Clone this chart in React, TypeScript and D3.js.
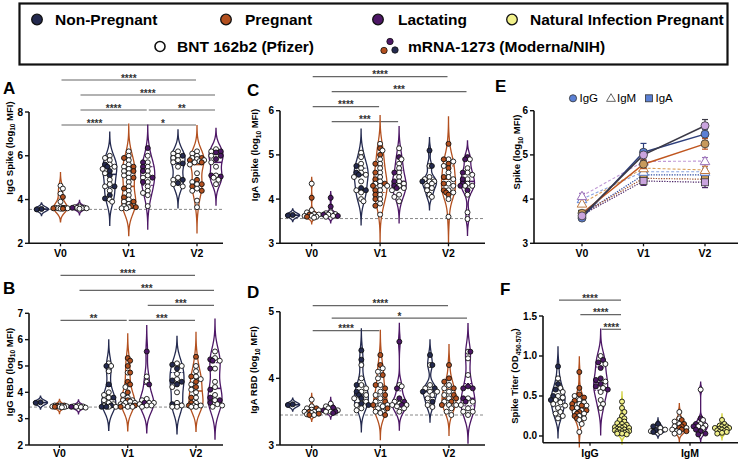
import React from "react";
import * as d3 from "d3";

const W = 745;
const H = 459;
const FONT = "'Liberation Sans', Arial, sans-serif";

// groups and timepoints
const groupNames = ["Non-Pregnant", "Pregnant", "Lactating"];
const timepoints = ["V0", "V1", "V2"];
const groupColors = ["#242a4f", "#b3501f", "#4d1766"];
const naturalColor = "#f1f08a";
const naturalStroke = "#cfcf3a";

// order of every violin list: V0 np, V0 p, V0 l, V1 np, V1 p, V1 l, V2 np, V2 p, V2 l
const spikeIgGPfizer: number[][] = [
  [],
  [4.63, 4.5, 4.27, 3.9, 3.62, 3.6, 3.58, 3.65, 3.6, 3.62],
  [3.6, 3.62, 3.65, 3.68, 3.6, 3.63, 3.58],
  [6.0, 5.9, 5.8, 5.6, 5.5, 5.4, 5.2, 4.9, 4.7, 4.6, 4.4, 4.0, 3.9],
  [6.2, 6.0, 5.8, 5.6, 5.5, 5.4, 5.3, 5.2, 5.1, 5.0, 4.8, 4.6, 4.4, 4.2, 4.0, 3.9, 3.8, 3.7, 3.65, 3.6, 3.6, 3.7],
  [6.0, 5.7, 5.5, 5.3, 5.1, 5.0, 4.8, 4.6, 4.4, 4.3, 4.2, 3.7],
  [6.2, 6.1, 6.0, 5.9, 5.8, 5.7, 5.5, 5.0, 4.9, 4.7, 4.6],
  [6.2, 6.1, 6.0, 5.9, 5.85, 5.8, 5.75, 5.7, 5.6, 5.2, 4.8, 4.7, 4.5, 4.4, 3.95, 3.65],
  [6.3, 6.2, 6.0, 5.7, 5.5, 5.1, 5.0, 4.9, 4.7],
];
const spikeIgGModerna: number[][] = [
  [3.55, 3.57],
  [4.12, 3.62, 3.6, 3.58],
  [3.62],
  [5.6, 5.5, 5.3, 5.1, 4.6, 4.2, 4.05],
  [5.9, 5.5, 5.3, 5.0, 4.5, 4.1, 3.9, 3.7, 3.65],
  [6.35, 5.7, 5.5, 5.3, 5.0, 4.8],
  [6.0, 5.65, 4.9, 4.75],
  [5.9, 5.8, 5.7, 4.9, 4.7, 4.6, 4.4],
  [6.2, 6.15, 6.0, 5.85, 5.1, 5.05],
];
const spikeIgGSig: [number, number, number, string][] = [
  [1, 4, 0, "****"], [4, 7, 0, "*"], [2, 5, 1, "****"], [5, 8, 1, "**"], [2, 8, 2, "****"], [1, 7, 3, "****"],
];

const rbdIgGPfizer: number[][] = [
  [],
  [3.45, 3.48, 3.5, 3.44, 3.47, 3.5, 3.46, 3.43],
  [3.42, 3.45, 3.47, 3.44, 3.46, 3.48],
  [5.1, 5.0, 4.8, 4.0, 3.9, 3.8, 3.7, 3.6, 3.55, 3.5, 3.45, 3.45],
  [4.75, 4.2, 3.9, 3.8, 3.7, 3.65, 3.6, 3.55, 3.5, 3.5, 3.45, 3.45, 3.6, 3.7],
  [4.6, 4.4, 3.75, 3.7, 3.6, 3.55, 3.5, 3.45, 3.5, 3.6],
  [5.1, 5.0, 4.7, 4.5, 4.2, 4.0, 3.6, 3.5, 3.45, 3.45],
  [5.0, 4.8, 4.6, 4.5, 4.3, 4.1, 4.0, 3.8, 3.6, 3.5, 3.45, 3.5, 3.45],
  [5.55, 5.3, 5.2, 4.9, 4.4, 4.2, 3.9, 3.7, 3.55, 3.45, 3.5],
];
const rbdIgGModerna: number[][] = [
  [3.6, 3.62],
  [3.48, 3.5, 3.45],
  [3.45],
  [5.0, 4.3, 3.8, 3.5, 3.45, 3.45],
  [5.3, 5.2, 5.0, 4.75, 4.4, 4.3, 4.0, 3.7, 3.5, 3.45],
  [5.55, 4.3, 3.6],
  [5.05, 4.9, 4.45, 4.4, 4.3, 3.55],
  [5.35, 4.6, 4.4, 4.2, 3.8, 3.6, 3.5],
  [5.25, 5.2, 4.9, 4.1, 3.8, 3.7, 3.6],
];
const rbdIgGSig: [number, number, number, string][] = [
  [1, 4, 0, "**"], [4, 7, 0, "***"], [5, 8, 1, "***"], [2, 8, 2, "***"], [1, 7, 3, "****"],
];

const spikeIgAPfizer: number[][] = [
  [],
  [4.35, 3.75, 3.7, 3.65, 3.62, 3.6, 3.58, 3.62, 3.66],
  [3.7, 3.68, 3.65, 3.62, 3.6, 3.66],
  [5.05, 4.95, 4.8, 4.7, 4.6, 4.55, 4.5, 4.4, 4.2, 4.15, 4.0, 3.95],
  [5.25, 5.1, 4.9, 4.8, 4.7, 4.6, 4.5, 4.4, 4.35, 4.3, 4.3, 4.2, 4.1, 4.0, 3.9, 3.65],
  [5.15, 4.9, 4.8, 4.7, 4.6, 4.5, 4.4, 4.35, 4.3, 4.25, 4.2, 4.1, 4.05, 3.95],
  [4.75, 4.5, 4.45, 4.4, 4.4, 4.35, 4.3, 4.25, 4.2, 4.1, 4.05],
  [4.9, 4.85, 4.75, 4.6, 4.5, 4.45, 4.35, 4.3, 4.2, 4.15, 4.0, 3.6],
  [4.9, 4.7, 4.6, 4.55, 4.45, 4.35, 4.3, 4.3, 4.1, 3.7, 3.55],
];
const spikeIgAModerna: number[][] = [
  [3.63, 3.64],
  [4.03, 3.6, 3.65],
  [4.03, 3.83, 3.65, 3.62],
  [4.75, 4.6, 4.55, 4.25, 4.2],
  [5.15, 5.0, 4.8, 4.6, 4.45, 4.35, 4.3, 4.2, 4.1, 4.0, 3.85],
  [4.95, 4.6, 4.4, 4.3, 4.25],
  [5.1, 4.75, 4.4],
  [5.25, 4.9, 4.8, 4.7, 4.5, 4.35, 4.2, 4.15, 4.1],
  [4.95, 4.9, 4.6, 4.45, 4.35, 4.3, 4.2],
];
const spikeIgASig: [number, number, number, string][] = [
  [2, 5, 0, "***"], [1, 4, 1, "****"], [2, 8, 2, "***"], [1, 7, 3, "****"],
];

const rbdIgAPfizer: number[][] = [
  [],
  [3.68, 3.58, 3.55, 3.52, 3.5, 3.48, 3.46, 3.45, 3.5, 3.53],
  [3.62, 3.58, 3.55, 3.52, 3.5, 3.5],
  [4.2, 4.0, 3.9, 3.85, 3.8, 3.75, 3.7, 3.65, 3.6, 3.55, 3.52],
  [4.15, 4.1, 4.0, 3.9, 3.8, 3.75, 3.7, 3.65, 3.6, 3.58, 3.55, 3.5, 3.5, 3.48, 3.6],
  [3.9, 3.88, 3.65, 3.6, 3.6, 3.55, 3.5, 3.62, 3.58],
  [4.2, 3.9, 3.85, 3.8, 3.8, 3.75, 3.7, 3.6, 3.57],
  [3.9, 3.85, 3.8, 3.75, 3.7, 3.65, 3.6, 3.6, 3.55, 3.5, 3.45],
  [4.4, 4.3, 4.05, 3.7, 3.65, 3.6, 3.55, 3.5, 3.45, 3.5],
];
const rbdIgAModerna: number[][] = [
  [3.6, 3.61],
  [3.55, 3.5, 3.47, 3.45],
  [3.56, 3.52, 3.5, 3.48],
  [4.42, 4.28, 3.9, 3.8, 3.75, 3.7, 3.62, 3.6],
  [4.35, 4.2, 4.05, 3.9, 3.85, 3.75, 3.65, 3.6, 3.55, 3.45],
  [4.55, 3.85, 3.7, 3.65, 3.6],
  [4.35, 4.2, 3.85, 3.8, 3.65],
  [4.2, 4.0, 3.95, 3.85, 3.75, 3.7, 3.65, 3.6],
  [4.4, 3.88, 3.85, 3.85, 3.7, 3.65],
];
const rbdIgASig: [number, number, number, string][] = [
  [1, 4, 0, "****"], [2, 8, 1, "*"], [1, 7, 2, "****"],
];

// panel F: IgG np, p, l, IgM np, p, l
const isotypes = ["IgG", "IgM"];
const titerPfizer: number[][] = [
  [0.72, 0.6, 0.55, 0.5, 0.48, 0.45, 0.42, 0.4, 0.38, 0.35, 0.3, 0.28, 0.25, 0.22],
  [0.5, 0.45, 0.42, 0.38, 0.35, 0.32, 0.3, 0.28, 0.25, 0.22, 0.2, 0.15, 0.05, 0.4],
  [1.0, 0.9, 0.68, 0.6, 0.55, 0.45, 0.4, 0.35],
  [0.1, 0.08, 0.06, 0.05],
  [0.3, 0.22, 0.18, 0.15, 0.12, 0.1, 0.08, 0.06, 0.05, 0.03],
  [0.58, 0.2, 0.15, 0.13, 0.12, 0.1],
];
const titerModerna: number[][] = [
  [0.87, 0.65, 0.58, 0.5, 0.45],
  [0.8, 0.6, 0.52, 0.48, 0.44, 0.4, 0.38, 0.35, 0.32, 0.3, 0.28, 0.25, 0.22],
  [0.95, 0.92, 0.85, 0.72, 0.7, 0.65, 0.62, 0.58],
  [0.15, 0.12, 0.07, 0.05],
  [0.2, 0.15, 0.12, 0.1, 0.08, 0.06],
  [0.22, 0.15, 0.12, 0.08, 0.06, 0.03, 0.02],
];
const titerNatural: number[][] = [
  [0.43, 0.35, 0.3, 0.25, 0.22, 0.2, 0.18, 0.16, 0.15, 0.14, 0.12, 0.11, 0.1, 0.09, 0.08, 0.07, 0.06, 0.05, 0.05, 0.04, 0.04, 0.03, 0.03, 0.02, 0.08, 0.1, 0.06, 0.12],
  [0.2, 0.15, 0.13, 0.12, 0.1, 0.1, 0.09, 0.08, 0.08, 0.07, 0.06, 0.05, 0.05, 0.04, 0.03, 0.12, 0.1],
];
const titerSig: [number, number, number, string][] = [
  [2, 3, 0, "****"], [1, 3, 1, "****"], [0, 3, 2, "****"],
];

// panel E: means per group over V0, V1, V2
const meanIgG = [[3.57, 5.06, 5.47], [3.68, 4.79, 5.25], [3.62, 5.0, 5.66]];
const semIgG = [[0.03, 0.2, 0.1], [0.04, 0.1, 0.12], [0.04, 0.12, 0.14]];
const meanIgM = [[4.0, 4.62, 4.62], [3.9, 4.7, 4.66], [4.07, 4.85, 4.86]];
const semIgM = [[0.06, 0.08, 0.08], [0.06, 0.08, 0.08], [0.06, 0.08, 0.08]];
const meanIgA = [[3.65, 4.55, 4.55], [3.67, 4.47, 4.45], [3.64, 4.41, 4.38]];
const semIgA = [[0.03, 0.1, 0.1], [0.03, 0.1, 0.1], [0.03, 0.1, 0.12]];

const eLineIgG = ["#2e3f7c", "#c0561f", "#3b3946"];
const eLineIgM = ["#8aa3e0", "#d9a05a", "#c09ad6"];
const eLineIgA = ["#2e4aa0", "#a0522d", "#4b2466"];
const eFill = ["#5b80d4", "#c79a5c", "#caa4de"];
const eTri = ["#5b80d4", "#c07a40", "#9a70b8"];

type Pt = { x: number; y: number; fill: string };

function gaussDensity(py: number[], bw: number) {
  return (yy: number) => {
    let s = 0;
    for (const p of py) {
      const u = (yy - p) / bw;
      s += Math.exp(-0.5 * u * u);
    }
    return s;
  };
}

function Violin(props: {
  cx: number;
  y: d3.ScaleLinear<number, number>;
  pfizer: number[];
  moderna: number[];
  natural?: number[];
  color: string;
  fillColor: string;
}) {
  const { cx, y, pfizer, moderna, natural = [], color, fillColor } = props;
  const r = 2.5;
  const maxHalf = 7;
  const items = [
    ...pfizer.map((v) => ({ v, fill: "#fff" })),
    ...moderna.map((v) => ({ v, fill: color })),
    ...natural.map((v) => ({ v, fill: naturalColor })),
  ];
  const py = items.map((d) => y(d.v));
  const sorted = [...py].sort((a, b) => a - b);
  const sd = d3.deviation(py) || 0;
  const iqr = (d3.quantileSorted(sorted, 0.75) || 0) - (d3.quantileSorted(sorted, 0.25) || 0);
  const spread = iqr > 0 ? Math.min(sd, iqr / 1.34) : sd;
  const bw = Math.max(1.05 * spread * Math.pow(py.length, -0.2), 2.2);
  const dens = gaussDensity(py, bw);
  const lo = (d3.min(py) as number) - 2.8 * bw;
  const hi = (d3.max(py) as number) + 2.8 * bw;
  const grid = d3.range(0, 81).map((i) => lo + ((hi - lo) * i) / 80);
  const maxD = d3.max(grid, dens) as number;
  const half = (yy: number) => (maxHalf * dens(yy)) / maxD;
  const area = d3
    .area<number>()
    .y((d) => d)
    .x0((d) => cx - half(d))
    .x1((d) => cx + half(d))
    .curve(d3.curveBasis);

  // simple swarm around the violin centre
  const order = items.map((d, i) => ({ ...d, py: py[i] })).sort((a, b) => a.py - b.py);
  const placed: Pt[] = [];
  const step = r * 0.95;
  for (const it of order) {
    const lim = Math.max(half(it.py) + 1.2, 4.5);
    let best = 0;
    let bestScore = -Infinity;
    let found = false;
    for (let k = 0; k < 10 && !found; k++) {
      const cands = k === 0 ? [0] : k % 2 ? [k * step, -k * step] : [-k * step, k * step];
      for (const dx of cands) {
        if (Math.abs(dx) > lim) continue;
        let minDist = Infinity;
        for (const p of placed) {
          const dd = Math.hypot(p.x - (cx + dx), p.y - it.py);
          if (dd < minDist) minDist = dd;
        }
        if (minDist >= 2 * r * 0.85) {
          best = dx;
          found = true;
          break;
        }
        if (minDist > bestScore) {
          bestScore = minDist;
          best = dx;
        }
      }
    }
    placed.push({ x: cx + best, y: it.py, fill: it.fill });
  }

  const q = (p: number) => d3.quantileSorted(sorted, p) as number;
  const qLine = (yy: number, w: number, dash?: string) => (
    <line x1={cx - half(yy)} x2={cx + half(yy)} y1={yy} y2={yy} stroke={color} strokeWidth={w} strokeDasharray={dash} />
  );

  return (
    <g>
      <path d={area(grid) || ""} fill={fillColor} stroke={color} strokeWidth={1.3} />
      {qLine(q(0.25), 1, "2,1")}
      {qLine(q(0.75), 1, "2,1")}
      {qLine(q(0.5), 1.6)}
      {placed.map((p, i) => (
        <circle key={i} cx={p.x} cy={p.y} r={r} fill={p.fill} stroke="#111" strokeWidth={0.9} />
      ))}
    </g>
  );
}

function YTitle(props: { x: number; y: number; pre: string; sub: string; post: string }) {
  const { x, y, pre, sub, post } = props;
  return (
    <text transform={`translate(${x},${y}) rotate(-90)`} textAnchor="middle" fontSize={9.5} fontWeight="bold">
      {pre}
      <tspan fontSize={6.5} dy={2.5}>{sub}</tspan>
      <tspan dy={-2.5}>{post}</tspan>
    </text>
  );
}

function Axes(props: {
  left: number;
  right: number;
  top: number;
  bottom: number;
  y: d3.ScaleLinear<number, number>;
  ticks: number[];
  fmt: (v: number) => string;
  labels: { x: number; text: string }[];
  labelY: number;
}) {
  const { left, right, top, bottom, y, ticks, fmt, labels, labelY } = props;
  return (
    <g>
      <line x1={left} x2={left} y1={top} y2={bottom} stroke="#111" strokeWidth={1.6} />
      <line x1={left} x2={right} y1={bottom} y2={bottom} stroke="#111" strokeWidth={1.6} />
      {ticks.map((t) => (
        <g key={t}>
          <line x1={left - 4} x2={left} y1={y(t)} y2={y(t)} stroke="#111" strokeWidth={1.4} />
          <text x={left - 6} y={y(t)} dy="0.35em" textAnchor="end" fontSize={10} fontWeight="bold">
            {fmt(t)}
          </text>
        </g>
      ))}
      {labels.map((l) => (
        <g key={l.text}>
          <line x1={l.x} x2={l.x} y1={bottom} y2={bottom + 3} stroke="#111" strokeWidth={1.3} />
          <text x={l.x} y={labelY} textAnchor="middle" fontSize={10.5} fontWeight="bold">
            {l.text}
          </text>
        </g>
      ))}
    </g>
  );
}

function SigBars(props: { xs: number[]; sig: [number, number, number, string][]; base: number; step: number }) {
  const { xs, sig, base, step } = props;
  return (
    <g>
      {sig.map(([a, b, lvl, s], i) => {
        const yy = base - lvl * step;
        const x1 = xs[a] + 1;
        const x2 = xs[b] - 1;
        return (
          <g key={i}>
            <line x1={x1} x2={x2} y1={yy} y2={yy} stroke="#666" strokeWidth={1.2} />
            <text x={(x1 + x2) / 2} y={yy + 1.5} textAnchor="middle" fontSize={10} fontWeight="bold" fill="#333">
              {s}
            </text>
          </g>
        );
      })}
    </g>
  );
}

function TimePanel(props: {
  pfizer: number[][];
  moderna: number[][];
  sig: [number, number, number, string][];
  domain: [number, number];
  ticks: number[];
  lod: number;
  left: number;
  right: number;
  top: number;
  bottom: number;
  centers: [number, number];
  sigBase: number;
  sigStep: number;
  title: string;
  titleX: number;
  titleY: number;
  letter: string;
  letterX: number;
  letterY: number;
  labelY: number;
}) {
  const p = props;
  const y = d3.scaleLinear().domain(p.domain).range([p.bottom, p.top]);
  const xt = d3.scalePoint<string>().domain(timepoints).range(p.centers);
  const xg = d3.scalePoint<string>().domain(groupNames).range([-19, 19]);
  const xs = timepoints.flatMap((t) => groupNames.map((g) => (xt(t) as number) + (xg(g) as number)));
  return (
    <g>
      <text x={p.letterX} y={p.letterY} fontSize={17} fontWeight="bold">{p.letter}</text>
      <SigBars xs={xs} sig={p.sig} base={p.sigBase} step={p.sigStep} />
      <line x1={p.left} x2={p.right} y1={y(p.lod)} y2={y(p.lod)} stroke="#888" strokeWidth={1} strokeDasharray="3,2" />
      {xs.map((cx, i) => (
        <Violin key={i} cx={cx} y={y} pfizer={p.pfizer[i]} moderna={p.moderna[i]} color={groupColors[i % 3]} fillColor="#fff" />
      ))}
      <Axes
        left={p.left}
        right={p.right}
        top={p.top}
        bottom={p.bottom}
        y={y}
        ticks={p.ticks}
        fmt={(v) => String(v)}
        labels={timepoints.map((t) => ({ x: xt(t) as number, text: t }))}
        labelY={p.labelY}
      />
      <YTitle x={p.titleX} y={p.titleY} pre={p.title + " (log"} sub="10" post=" MFI)" />
    </g>
  );
}

function TiterPanel() {
  const left = 543, right = 738, top = 316, bottom = 442.7;
  const y = d3.scaleLinear().domain([-0.084, 1.5]).range([bottom, top]);
  const xi = d3.scalePoint<string>().domain(isotypes).range([590, 690]);
  const xg = d3.scalePoint<string>().domain([...groupNames, "Natural"]).range([-32, 32]);
  const cells = isotypes.flatMap((iso, ii) =>
    [...groupNames, "Natural"].map((g, gi) => ({
      cx: (xi(iso) as number) + (xg(g) as number),
      pf: gi < 3 ? titerPfizer[ii * 3 + gi] : [],
      mo: gi < 3 ? titerModerna[ii * 3 + gi] : [],
      nat: gi === 3 ? titerNatural[ii] : [],
      color: gi < 3 ? groupColors[gi] : naturalStroke,
    }))
  );
  return (
    <g>
      <text x={500} y={295} fontSize={17} fontWeight="bold">F</text>
      <SigBars xs={cells.map((c) => c.cx)} sig={titerSig} base={329.3} step={14.6} />
      {cells.map((c, i) => (
        <Violin key={i} cx={c.cx} y={y} pfizer={c.pf} moderna={c.mo} natural={c.nat} color={c.color} fillColor={c.nat.length ? "#fbfbd8" : "#fff"} />
      ))}
      <Axes
        left={left}
        right={right}
        top={top}
        bottom={bottom}
        y={y}
        ticks={[0, 0.5, 1, 1.5]}
        fmt={d3.format(".1f")}
        labels={isotypes.map((t) => ({ x: xi(t) as number, text: t }))}
        labelY={457}
      />
      <YTitle x={518} y={376} pre="Spike Titer (OD" sub="450-570" post=")" />
    </g>
  );
}

function LinePanel() {
  const left = 534, right = 738, top = 110.7, bottom = 243.3;
  const y = d3.scaleLinear().domain([3, 6]).range([bottom, top]);
  const x = d3.scalePoint<string>().domain(timepoints).range([582, 705]);
  const line = d3.line<number>().x((_, i) => x(timepoints[i]) as number).y((d) => y(d));
  const err = (means: number[][], sems: number[][], colors: string[]) =>
    means.flatMap((m, g) =>
      m.map((v, i) => {
        const cx = x(timepoints[i]) as number;
        return (
          <g key={`${g}-${i}`} stroke={colors[g]} strokeWidth={1.2}>
            <line x1={cx} x2={cx} y1={y(v - sems[g][i])} y2={y(v + sems[g][i])} />
            <line x1={cx - 3} x2={cx + 3} y1={y(v + sems[g][i])} y2={y(v + sems[g][i])} />
            <line x1={cx - 3} x2={cx + 3} y1={y(v - sems[g][i])} y2={y(v - sems[g][i])} />
          </g>
        );
      })
    );
  return (
    <g>
      <text x={495} y={92} fontSize={17} fontWeight="bold">E</text>
      {/* legend */}
      <circle cx={573} cy={98.3} r={3.6} fill={eFill[0]} stroke="#333" strokeWidth={0.8} />
      <text x={579.5} y={102.3} fontSize={11.5}>IgG</text>
      <path d={d3.symbol(d3.symbolTriangle, 34)() || ""} transform="translate(611,98.8)" fill="#fff" stroke="#555" strokeWidth={0.9} />
      <text x={617} y={102.3} fontSize={11.5}>IgM</text>
      <rect x={645.5} y={94.8} width={7} height={7} fill={eFill[0]} stroke="#333" strokeWidth={0.8} />
      <text x={655.5} y={102.3} fontSize={11.5}>IgA</text>

      {meanIgA.map((m, g) => (
        <path key={`a${g}`} d={line(m) || ""} fill="none" stroke={eLineIgA[g]} strokeWidth={1.2} strokeDasharray="1.3,1.3" />
      ))}
      {meanIgM.map((m, g) => (
        <path key={`m${g}`} d={line(m) || ""} fill="none" stroke={eLineIgM[g]} strokeWidth={1.1} strokeDasharray="3,2" />
      ))}
      {err(meanIgA, semIgA, eLineIgA)}
      {err(meanIgM, semIgM, eTri)}
      {meanIgA.map((m, g) =>
        m.map((v, i) => (
          <rect key={`as${g}-${i}`} x={(x(timepoints[i]) as number) - 3.5} y={y(v) - 3.5} width={7} height={7} fill={eFill[g]} stroke="#333" strokeWidth={0.8} />
        ))
      )}
      {meanIgM.map((m, g) =>
        m.map((v, i) => (
          <path key={`ms${g}-${i}`} d={d3.symbol(d3.symbolTriangle, 40)() || ""} transform={`translate(${x(timepoints[i])},${y(v) + 0.8})`} fill="#fff" stroke={eTri[g]} strokeWidth={1} />
        ))
      )}
      {meanIgG.map((m, g) => (
        <path key={`g${g}`} d={line(m) || ""} fill="none" stroke={eLineIgG[g]} strokeWidth={1.5} />
      ))}
      {err(meanIgG, semIgG, eLineIgG)}
      {meanIgG.map((m, g) =>
        m.map((v, i) => (
          <circle key={`gs${g}-${i}`} cx={x(timepoints[i]) as number} cy={y(v)} r={4} fill={eFill[g]} stroke="#333" strokeWidth={0.8} />
        ))
      )}
      <Axes
        left={left}
        right={right}
        top={top}
        bottom={bottom}
        y={y}
        ticks={[3, 4, 5, 6]}
        fmt={(v) => String(v)}
        labels={timepoints.map((t) => ({ x: x(t) as number, text: t }))}
        labelY={257}
      />
      <YTitle x={520} y={152} pre="Spike (log" sub="10" post=" MFI)" />
    </g>
  );
}

function Legend() {
  const row1 = [
    { cx: 37, tx: 55, label: groupNames[0], fill: groupColors[0] },
    { cx: 226, tx: 245, label: groupNames[1], fill: groupColors[1] },
    { cx: 378, tx: 398, label: groupNames[2], fill: groupColors[2] },
    { cx: 512, tx: 530, label: "Natural Infection Pregnant", fill: naturalColor },
  ];
  return (
    <g fontWeight="bold" fontSize={15.5}>
      <rect x={19.5} y={3.5} width={708} height={61} fill="#fff" stroke="#111" strokeWidth={2.2} />
      {row1.map((d) => (
        <g key={d.label}>
          <circle cx={d.cx} cy={19.5} r={5.3} fill={d.fill} stroke="#111" strokeWidth={1.3} />
          <text x={d.tx} y={25}>{d.label}</text>
        </g>
      ))}
      <circle cx={160} cy={46.5} r={5} fill="#fff" stroke="#111" strokeWidth={1.6} />
      <text x={177} y={52}>BNT 162b2 (Pfizer)</text>
      <circle cx={390} cy={41.5} r={3.2} fill={groupColors[2]} stroke="#111" strokeWidth={0.8} />
      <circle cx={384} cy={50.5} r={3.2} fill={groupColors[1]} stroke="#111" strokeWidth={0.8} />
      <circle cx={395} cy={50} r={3.2} fill={groupColors[0]} stroke="#111" strokeWidth={0.8} />
      <text x={408} y={52}>mRNA-1273 (Moderna/NIH)</text>
    </g>
  );
}

export default function App() {
  return (
    <div style={{ position: "absolute", left: 0, top: 0, width: W, height: H, background: "#fff" }}>
      <svg width={W} height={H} style={{ display: "block", fontFamily: FONT }}>
        <Legend />
        <TimePanel
          pfizer={spikeIgGPfizer} moderna={spikeIgGModerna} sig={spikeIgGSig}
          domain={[2, 8]} ticks={[2, 4, 6, 8]} lod={3.55}
          left={29} right={223} top={112} bottom={243.3} centers={[60.5, 197]}
          sigBase={125} sigStep={15}
          title="IgG Spike" titleX={12.5} titleY={148}
          letter="A" letterX={3} letterY={94} labelY={257}
        />
        <TimePanel
          pfizer={rbdIgGPfizer} moderna={rbdIgGModerna} sig={rbdIgGSig}
          domain={[2, 7]} ticks={[2, 3, 4, 5, 6, 7]} lod={3.44}
          left={29} right={223} top={313.3} bottom={445} centers={[59.5, 196]}
          sigBase={320.3} sigStep={15}
          title="IgG RBD" titleX={12.5} titleY={372}
          letter="B" letterX={3} letterY={294} labelY={457}
        />
        <TimePanel
          pfizer={spikeIgAPfizer} moderna={spikeIgAModerna} sig={spikeIgASig}
          domain={[3, 6]} ticks={[3, 4, 5, 6]} lod={3.56}
          left={280} right={485} top={110.7} bottom={243.3} centers={[311.7, 448.5]}
          sigBase={121.7} sigStep={15}
          title="IgA Spike" titleX={258} titleY={155}
          letter="C" letterX={247} letterY={96} labelY={257}
        />
        <TimePanel
          pfizer={rbdIgAPfizer} moderna={rbdIgAModerna} sig={rbdIgASig}
          domain={[3, 5]} ticks={[3, 4, 5]} lod={3.45}
          left={280} right={485} top={311.7} bottom={445} centers={[311.7, 449]}
          sigBase={330.7} sigStep={12.5}
          title="IgA RBD" titleX={257} titleY={370}
          letter="D" letterX={247} letterY={298} labelY={457}
        />
        <LinePanel />
        <TiterPanel />
      </svg>
    </div>
  );
}
